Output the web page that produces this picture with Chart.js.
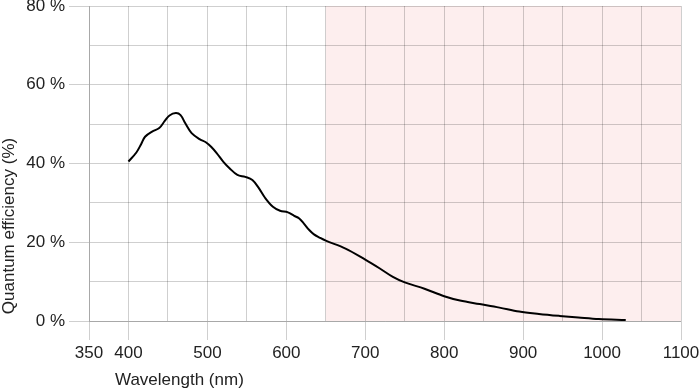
<!DOCTYPE html>
<html>
<head>
<meta charset="utf-8">
<script src="https://cdn.jsdelivr.net/npm/chart.js@4"></script>
<style>
  html, body { margin: 0; padding: 0; background: #ffffff; }
  #wrap { width: 700px; height: 392px; position: relative; }
</style>
</head>
<body>
<div id="wrap"><canvas id="c" width="700" height="392"></canvas></div>
<script>
// Wavelength (nm) and quantum efficiency (%)
const wavelengths = [400, 410, 416, 421, 430, 439, 446, 452, 460, 466, 472, 480, 490, 498, 505, 512, 520, 528, 538, 548, 557, 565, 573, 583, 592, 602, 610, 616, 622, 629, 635, 642, 650, 675, 700, 718, 735, 750, 775, 800, 820, 845, 870, 895, 920, 946, 970, 996, 1030];
const efficiency  = [40.5, 42.8, 44.9, 46.8, 48.1, 49.0, 50.8, 52.2, 52.8, 52.3, 50.2, 47.7, 46.2, 45.4, 44.2, 42.6, 40.5, 38.8, 37.1, 36.6, 35.8, 33.8, 31.3, 29.0, 28.0, 27.6, 26.7, 26.1, 24.8, 23.1, 22.0, 21.2, 20.4, 18.4, 15.6, 13.4, 11.2, 9.8, 8.2, 6.3, 5.2, 4.3, 3.4, 2.4, 1.8, 1.3, 0.9, 0.5, 0.25];
const xTickLabels = [350, 400, 500, 600, 700, 800, 900, 1000, 1100];
const yTickLabels = [0, 20, 40, 60, 80];
const shadedRange = [650, 1100];
const xTitle = 'Wavelength (nm)';
const yTitle = 'Quantum efficiency (%)';

const FONT = "'Liberation Sans', Arial, sans-serif";
const FSIZE = 17;
const TEXT = '#222222';
const GRID = 'rgba(0,0,0,0.19)';

const shadePlugin = {
  id: 'shade',
  beforeDraw(chart) {
    const { ctx, chartArea, scales } = chart;
    const x0 = scales.x.getPixelForValue(shadedRange[0]);
    const x1 = scales.x.getPixelForValue(shadedRange[1]);
    ctx.save();
    ctx.fillStyle = '#fdeeee';
    ctx.fillRect(x0, chartArea.top, x1 - x0, chartArea.bottom - chartArea.top);
    ctx.restore();
  }
};

const titlesPlugin = {
  id: 'titles',
  afterDraw(chart) {
    const { ctx } = chart;
    ctx.save();
    ctx.fillStyle = TEXT;
    ctx.font = FSIZE + 'px ' + FONT;
    ctx.textBaseline = 'middle';
    ctx.textAlign = 'left';
    ctx.fillText(xTitle, 115, 380);
    ctx.translate(9, 226);
    ctx.rotate(-Math.PI / 2);
    ctx.textAlign = 'center';
    ctx.fillText(yTitle, 0, 0);
    ctx.restore();
  }
};

new Chart(document.getElementById('c'), {
  type: 'line',
  data: {
    datasets: [{
      data: wavelengths.map((w, i) => ({ x: w, y: efficiency[i] })),
      borderColor: '#000000',
      borderWidth: 2,
      pointRadius: 0,
      tension: 0.35,
      fill: false
    }]
  },
  options: {
    responsive: false,
    animation: false,
    events: [],
    layout: { padding: { top: 6, right: 19, left: 0, bottom: 0 } },
    plugins: { legend: { display: false }, tooltip: { enabled: false } },
    scales: {
      x: {
        type: 'linear',
        min: 350, max: 1100,
        border: { color: GRID, width: 1 },
        grid: {
          color: GRID, lineWidth: 1,
          drawTicks: true, tickLength: 19,
          tickColor: (c) => xTickLabels.includes(c.tick && c.tick.value) ? GRID : 'rgba(0,0,0,0)'
        },
        ticks: {
          stepSize: 50,
          autoSkip: false,
          maxRotation: 0,
          padding: 3,
          color: TEXT,
          font: { family: FONT, size: FSIZE },
          callback: (v) => xTickLabels.includes(v) ? String(v) : ''
        },
        afterFit(s) { s.height = 71; s.paddingLeft = 0; s.paddingRight = 0; }
      },
      y: {
        min: 0, max: 80,
        border: { color: GRID, width: 1 },
        grid: {
          color: GRID, lineWidth: 1,
          drawTicks: true, tickLength: 20,
          tickColor: (c) => yTickLabels.includes(c.tick && c.tick.value) ? GRID : 'rgba(0,0,0,0)'
        },
        ticks: {
          stepSize: 10,
          autoSkip: false,
          padding: 4,
          color: TEXT,
          font: { family: FONT, size: FSIZE },
          callback: (v) => yTickLabels.includes(v) ? v + ' %' : ''
        },
        afterFit(s) { s.width = 89; s.paddingTop = 0; s.paddingBottom = 0; }
      }
    }
  },
  plugins: [shadePlugin, titlesPlugin]
});
</script>
</body>
</html>
